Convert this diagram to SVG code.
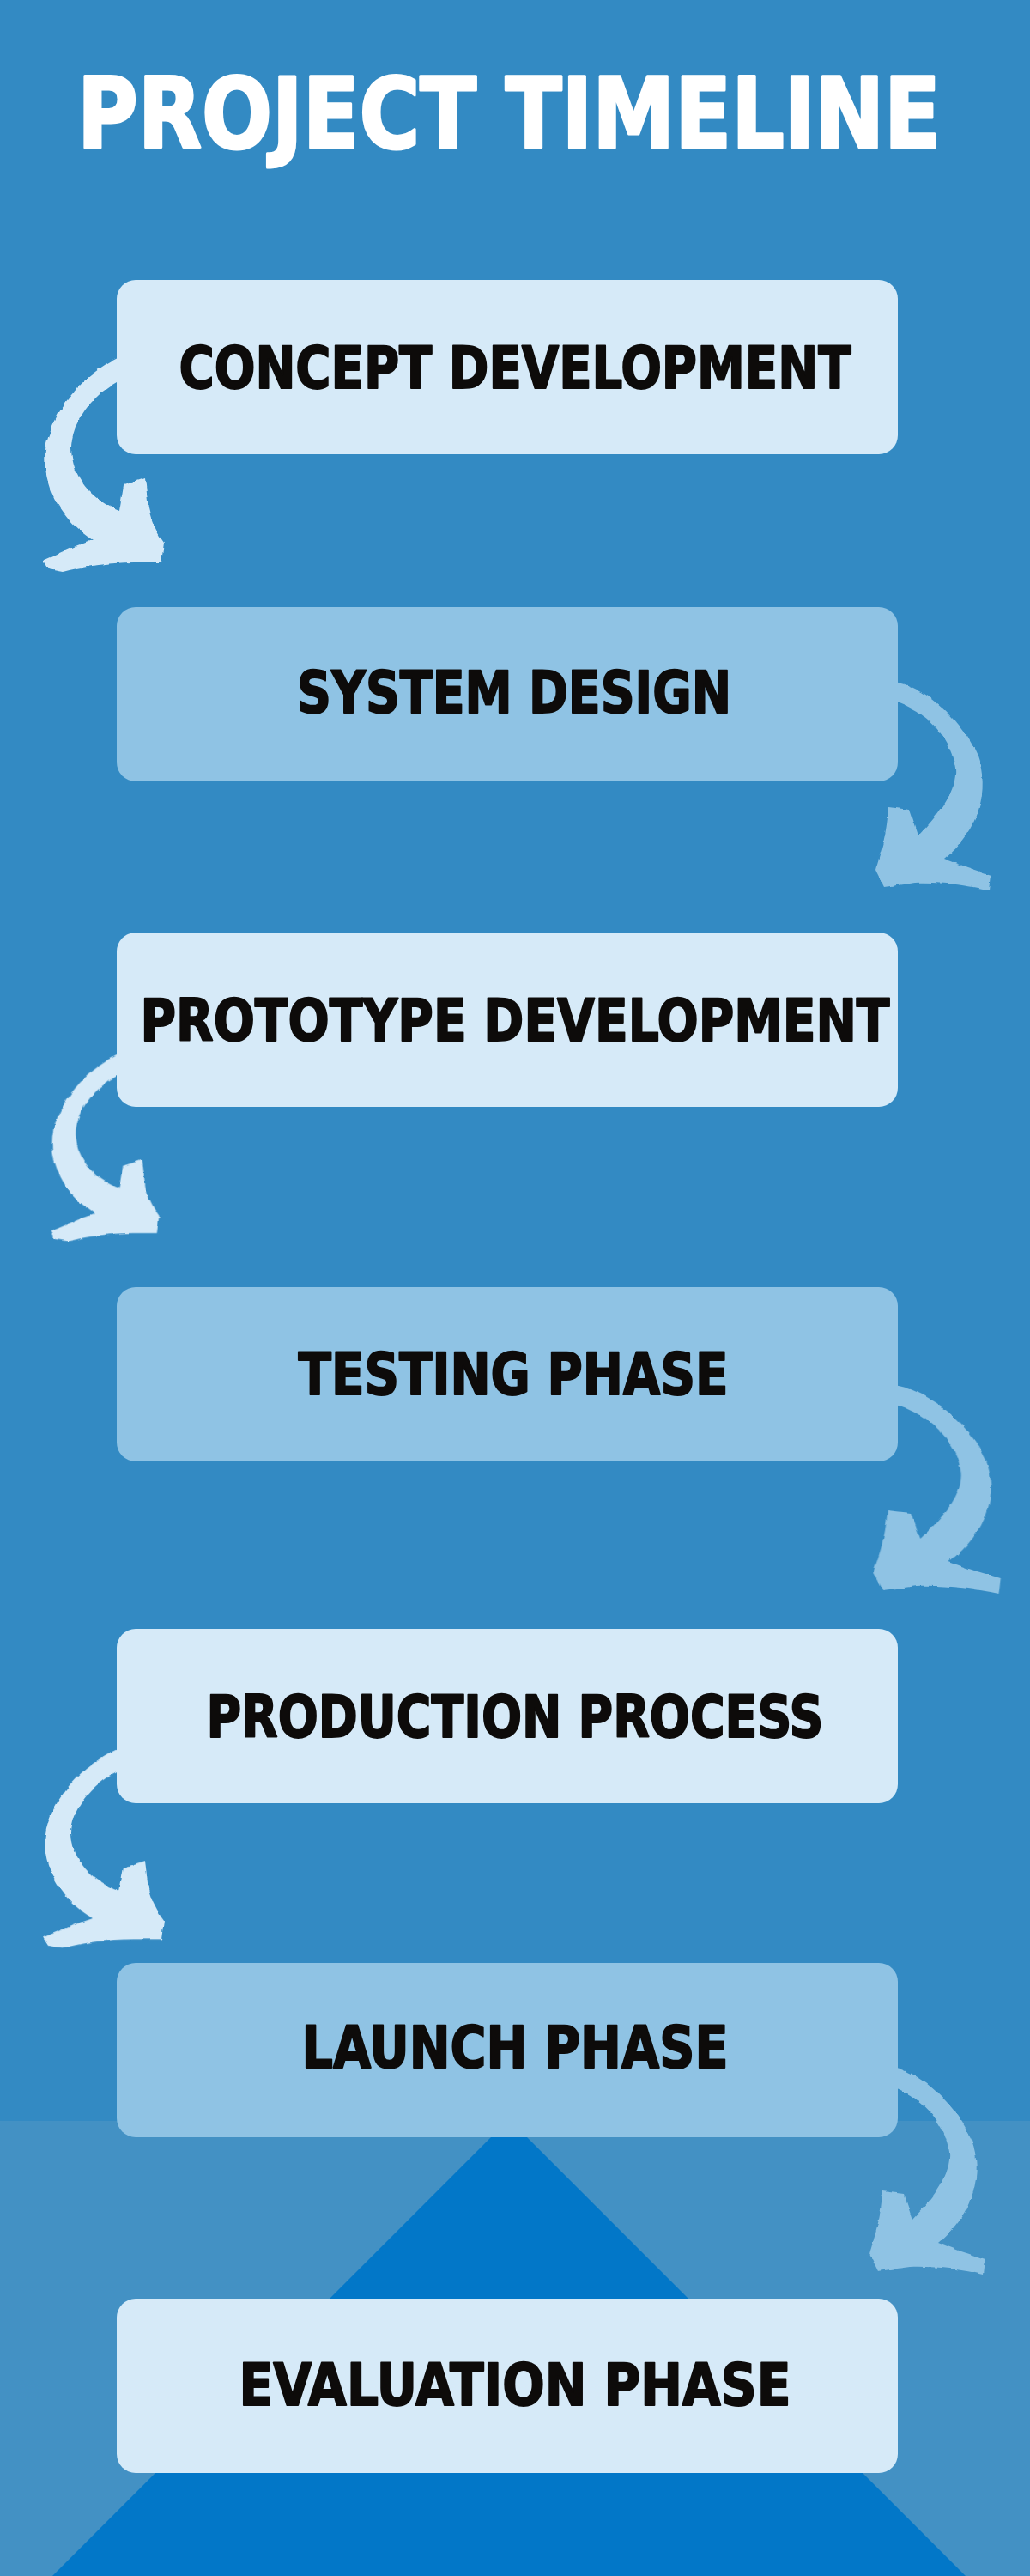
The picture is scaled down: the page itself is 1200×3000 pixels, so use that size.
<svg xmlns="http://www.w3.org/2000/svg" xmlns:xlink="http://www.w3.org/1999/xlink" width="1200" height="3000" viewBox="0 0 1200 3000">
<style>
.bg{fill:#338AC3}
.band{fill:#4391C4}
.tri{fill:#0277C8}
.light{fill:#D6EAF8}
.mid{fill:#8FC3E4}
.lbl{font-family:"DejaVu Sans Condensed","DejaVu Sans","Liberation Sans",sans-serif;font-weight:bold;font-size:67px;fill:#0D0B0A;stroke:#0D0B0A;stroke-width:1.8;stroke-linejoin:round;text-anchor:middle}
.title{font-family:"DejaVu Sans Condensed","DejaVu Sans","Liberation Sans",sans-serif;font-weight:bold;font-size:114px;fill:#FFFFFF;stroke:#FFFFFF;stroke-width:3;stroke-linejoin:round;text-anchor:middle}
.arL{fill:#D6EAF8}
.arR{fill:#8FC3E4}
</style>
<defs>
<filter id="rough" x="-20%" y="-20%" width="140%" height="140%">
<feTurbulence type="fractalNoise" baseFrequency="0.09" numOctaves="2" seed="3" result="n"/>
<feDisplacementMap in="SourceGraphic" in2="n" scale="4" xChannelSelector="R" yChannelSelector="G"/>
</filter>
<path id="arrowLeft" d="M12,-2 L0,0 C-30,15 -70,50 -82,100 C-90,140 -70,185 -28,212 L-50,220 L-86,236 L-80,246 L-63,249 C-40,243 -10,238 20,238 L52,238 L55,215 C48,205 40,190 37,175 L33,140 L8,148 L3,178 C-30,165 -52,138 -53,106 C-53,75 -30,45 0,28 L12,28 Z"/>
<path id="arrowRight" d="M-12,-2 L0,0 C35,8 75,45 92,85 C106,125 95,170 53,205 L80,215 L108,224 L106,242 C80,236 50,232 20,233 L-17,238 L-27,218 C-22,200 -14,180 -12,145 L13,148 L23,178 C50,150 68,125 66,100 C62,70 40,38 0,23 L-12,22 Z"/>
</defs>
<rect class="bg" x="0" y="0" width="1200" height="3000"/>
<rect class="band" x="0" y="2470" width="1200" height="530"/>
<polygon class="tri" points="593,2468 61,3000 1125,3000"/>
<g id="title"><text class="title" x="593" y="172" textLength="1006" lengthAdjust="spacingAndGlyphs">PROJECT TIMELINE</text></g>
<g id="connectors" filter="url(#rough)">
<use xlink:href="#arrowLeft" class="arL" transform="translate(136,417)"/>
<use xlink:href="#arrowRight" class="arR" transform="translate(1047,795)"/>
<use xlink:href="#arrowLeft" class="arL" transform="translate(136,1229) scale(0.9,0.87)"/>
<use xlink:href="#arrowRight" class="arR" transform="translate(1047,1614) scale(1.1,1.0)"/>
<use xlink:href="#arrowLeft" class="arL" transform="translate(136,2037) scale(1,0.93)"/>
<use xlink:href="#arrowRight" class="arR" transform="translate(1040,2407)"/>
</g>
<g id="node-concept"><rect class="light" x="136" y="326" width="910" height="203" rx="22"/><text class="lbl" x="600" y="452" textLength="783" lengthAdjust="spacingAndGlyphs">CONCEPT DEVELOPMENT</text></g>
<g id="node-system"><rect class="mid" x="136" y="707" width="910" height="203" rx="22"/><text class="lbl" x="599" y="830" textLength="506" lengthAdjust="spacingAndGlyphs">SYSTEM DESIGN</text></g>
<g id="node-prototype"><rect class="light" x="136" y="1086" width="910" height="203" rx="22"/><text class="lbl" x="600" y="1212" textLength="873" lengthAdjust="spacingAndGlyphs">PROTOTYPE DEVELOPMENT</text></g>
<g id="node-testing"><rect class="mid" x="136" y="1499" width="910" height="203" rx="22"/><text class="lbl" x="598" y="1624" textLength="501" lengthAdjust="spacingAndGlyphs">TESTING PHASE</text></g>
<g id="node-production"><rect class="light" x="136" y="1897" width="910" height="203" rx="22"/><text class="lbl" x="600" y="2023" textLength="719" lengthAdjust="spacingAndGlyphs">PRODUCTION PROCESS</text></g>
<g id="node-launch"><rect class="mid" x="136" y="2286" width="910" height="203" rx="22"/><text class="lbl" x="600" y="2408" textLength="497" lengthAdjust="spacingAndGlyphs">LAUNCH PHASE</text></g>
<g id="node-evaluation"><rect class="light" x="136" y="2677" width="910" height="203" rx="22"/><text class="lbl" x="600" y="2801" textLength="643" lengthAdjust="spacingAndGlyphs">EVALUATION PHASE</text></g>
</svg>
